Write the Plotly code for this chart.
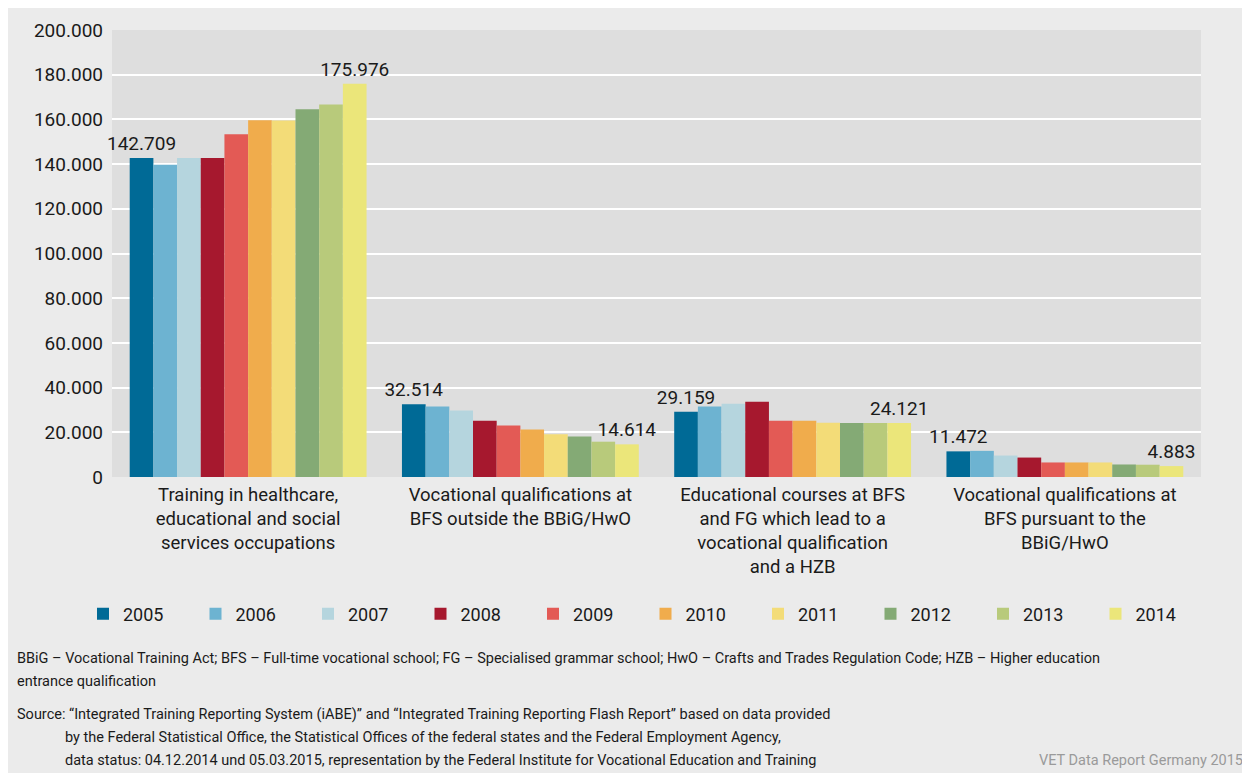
import plotly.graph_objects as go

categories = [
    "Training in healthcare,<br>educational and social<br>services occupations",
    "Vocational qualifications at<br>BFS outside the BBiG/HwO",
    "Educational courses at BFS<br>and FG which lead to a<br>vocational qualification<br>and a HZB",
    "Vocational qualifications at<br>BFS pursuant to the<br>BBiG/HwO",
]
years = ["2005", "2006", "2007", "2008", "2009", "2010", "2011", "2012", "2013", "2014"]
v2005 = [142709, 32514, 29159, 11472]
v2006 = [139700, 31500, 31500, 11700]
v2007 = [142700, 29700, 32800, 9600]
v2008 = [142700, 25200, 33700, 8700]
v2009 = [153300, 23000, 25200, 6500]
v2010 = [159600, 21200, 25200, 6500]
v2011 = [159500, 19100, 24300, 6500]
v2012 = [164500, 18100, 24200, 5600]
v2013 = [166700, 15800, 24200, 5500]
v2014 = [175976, 14614, 24121, 4883]
series = [v2005, v2006, v2007, v2008, v2009, v2010, v2011, v2012, v2013, v2014]
colors = ["#006a96", "#6db3d1", "#b5d5de", "#a6182e", "#e35a55",
          "#f0ac4c", "#f3dc78", "#84aa75", "#b8ca7b", "#ebe67a"]
labelled_years = {"2005", "2014"}

OFF = 8  # page body margin
W, H = 1242, 765
L, R, T, B = 104, 49, 22, 296
PW, PH = W - L - R, H - T - B


def px_x(px):  # page pixel -> paper
    return (px - OFF - L) / PW


def px_y(py):
    return (H - B - (py - OFF)) / PH


FONT = "Roboto, 'Open Sans', sans-serif"
TXT = "#1a1a1a"

fig = go.Figure()
for yr, vals, col in zip(years, series, colors):
    kw = {}
    if yr in labelled_years:
        kw = dict(texttemplate="%{y:,}", textposition="outside",
                  textfont=dict(size=19, color=TXT, family=FONT),
                  cliponaxis=False, constraintext="none")
    fig.add_trace(go.Bar(name=yr, x=categories, y=vals, marker_color=col,
                         marker_line_width=0, **kw))

shapes = [
    dict(type="rect", xref="paper", yref="paper", x0=0, x1=1, y0=0, y1=1,
         fillcolor="#dedede", line_width=0, layer="below"),
]

foot = [
    ("BBiG – Vocational Training Act; BFS – Full-time vocational school; FG – Specialised grammar school; HwO – Crafts and Trades Regulation Code; HZB – Higher education", 15, 658),
    ("entrance qualification", 15, 681),
    ("Source: “Integrated Training Reporting System (iABE)” and “Integrated Training Reporting Flash Report” based on data provided", 15, 714),
    ("by the Federal Statistical Office, the Statistical Offices of the federal states and the Federal Employment Agency,", 63, 737),
    ("data status: 04.12.2014 und 05.03.2015, representation by the Federal Institute for Vocational Education and Training", 63, 760),
]
annotations = []
for txt, x, y in foot:
    annotations.append(dict(text=txt, xref="paper", yref="paper", x=px_x(x), y=px_y(y),
                            xanchor="left", yanchor="middle", showarrow=False,
                            font=dict(size=14.5, color=TXT, family=FONT)))
annotations.append(dict(text="VET Data Report Germany 2015", xref="paper", yref="paper",
                        x=px_x(1245), y=px_y(760), xanchor="right", yanchor="middle",
                        showarrow=False, font=dict(size=14.5, color="#9a9a9a", family=FONT)))

fig.update_layout(
    width=W, height=H,
    margin=dict(l=L, r=R, t=T, b=B),
    paper_bgcolor="#ebebeb",
    plot_bgcolor="rgba(0,0,0,0)",
    separators=",.",
    barmode="group",
    bargap=0.13,
    bargroupgap=0,
    font=dict(family=FONT, color=TXT),
    shapes=shapes,
    annotations=annotations,
    showlegend=True,
    legend=dict(orientation="h", x=px_x(83), xanchor="left", y=px_y(614), yanchor="middle",
                font=dict(size=18, color=TXT, family=FONT), bgcolor="rgba(0,0,0,0)",
                entrywidth=67.5, entrywidthmode="pixels", traceorder="normal"),
)
fig.update_xaxes(showgrid=False, showline=False, ticks="", ticklabelstandoff=4,
                 tickfont=dict(size=18.5, color=TXT, family=FONT))
fig.update_yaxes(range=[0, 200000], tickvals=[0, 20000, 40000, 60000, 80000, 100000,
                                               120000, 140000, 160000, 180000, 200000],
                 tickformat=",", gridcolor="white", gridwidth=2, zeroline=False, showline=False,
                 tickfont=dict(size=19, color=TXT, family=FONT), ticklabelstandoff=8)

fig.write_html("out.html")
